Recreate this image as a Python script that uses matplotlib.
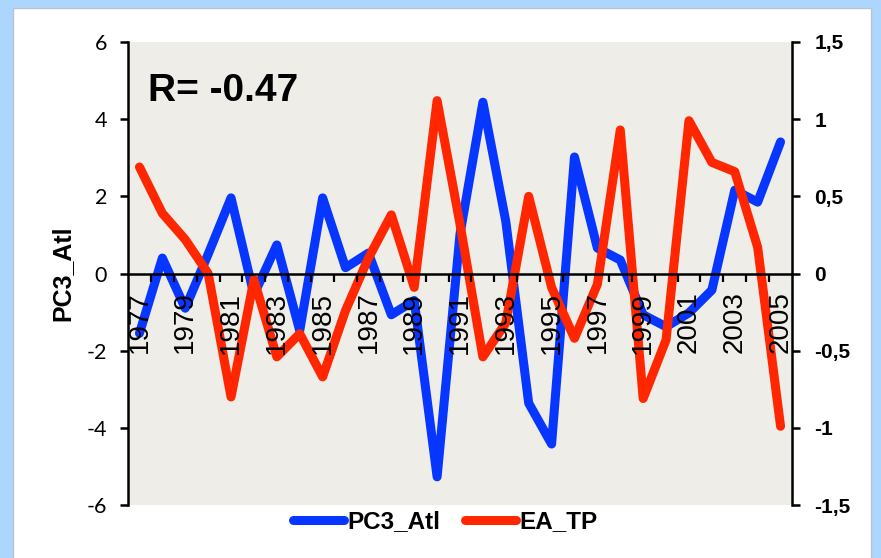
import numpy as np
import matplotlib
matplotlib.use("Agg")
import matplotlib.pyplot as plt
from matplotlib.patches import Rectangle

plt.rcParams['font.family'] = ['Liberation Sans', 'DejaVu Sans']

# ---- data -------------------------------------------------------------
years = list(range(1977, 2006))
pc3_atl = [-1.55, 0.40, -0.90, 0.50, 1.96, -0.55, 0.74, -1.48, 1.96, 0.15,
           0.53, -1.07, -0.70, -5.27, 1.02, 4.44, 1.35, -3.36, -4.42, 3.02,
           0.66, 0.35, -1.07, -1.38, -1.02, -0.43, 2.16, 1.85, 3.41]
ea_tp = [0.69, 0.39, 0.22, 0.00, -0.80, -0.04, -0.54, -0.39, -0.67, -0.24,
         0.10, 0.38, -0.09, 1.12, 0.32, -0.54, -0.32, 0.50, -0.09, -0.42,
         -0.07, 0.93, -0.81, -0.43, 0.99, 0.72, 0.66, 0.17, -0.99]
left_ticks = [-6, -4, -2, 0, 2, 4, 6]
right_ticks = [-1.5, -1.0, -0.5, 0.0, 0.5, 1.0, 1.5]
correlation_text = "R= -0.47"

BLUE = '#0636FF'
RED = '#FF2600'

def comma_fmt(v):
    s = f"{v:g}"
    return s.replace('.', ',')

# ---- figure -----------------------------------------------------------
W, H = 881, 558
fig = plt.figure(figsize=(W / 100, H / 100), dpi=100)
fig.patch.set_facecolor('#ADD6FF')
panel = Rectangle((13 / W, -0.01), (871 - 13) / W, 1.01 - 8 / H,
                  transform=fig.transFigure, facecolor='white',
                  edgecolor='#B9C3CF', linewidth=1.0, zorder=-10)
fig.patches.append(panel)

left, right, top, bottom = 128 / W, 792 / W, 1 - 42 / H, 1 - 505 / H
ax1 = fig.add_axes([left, bottom, right - left, top - bottom])
ax1.set_facecolor('#EEEDE7')

x = np.arange(len(years))
line_kw = dict(lw=6.5, solid_capstyle='round', solid_joinstyle='round')
l1, = ax1.plot(x, pc3_atl, color=BLUE, label='PC3_Atl', **line_kw)
ax1.set_xlim(-0.5, len(years) - 0.5)
ax1.set_ylim(-6, 6)
ax1.set_yticks(left_ticks, labels=[str(t) for t in left_ticks],
               fontfamily='Lato', fontsize=15.5)
ax1.tick_params(axis='y', direction='out', length=6, width=1.8, pad=9)
for s in ('top', 'bottom', 'right'):
    ax1.spines[s].set_visible(False)
ax1.spines['left'].set_linewidth(1.8)
ax1.xaxis.set_visible(False)
ax1.set_ylabel('PC3_Atl', fontsize=18, fontweight='bold')
ax1.yaxis.set_label_coords(-0.080, 0.5)
ax1.text(0.03, 0.894, correlation_text, transform=ax1.transAxes,
         fontsize=28, fontweight='bold', ha='left', va='center')

# second series on the right-hand scale
ax2 = ax1.twinx()
ax2.set_axisbelow(False)
l2, = ax2.plot(x, ea_tp, color=RED, label='EA_TP', **line_kw)
ax2.set_ylim(-1.5, 1.5)
ax2.set_yticks(right_ticks, labels=[comma_fmt(t) for t in right_ticks],
               fontsize=15, fontweight='bold')
ax2.tick_params(axis='y', direction='out', length=6, width=1.8, pad=10)
for s in ('top', 'left'):
    ax2.spines[s].set_visible(False)
ax2.spines['right'].set_linewidth(1.8)

# category axis drawn through zero
ax2.xaxis.set_visible(True)
ax2.spines['bottom'].set_visible(True)
ax2.spines['bottom'].set_position(('data', 0))
ax2.spines['bottom'].set_linewidth(1.8)
ax2.set_xticks(x[::2], labels=[str(y) for y in years[::2]],
               rotation=90, fontsize=20)
ax2.set_xticks(x[:-1] + 0.5, minor=True)
ax2.tick_params(axis='x', which='major', length=0, pad=13,
                labelbottom=True, bottom=True)
ax2.tick_params(axis='x', which='minor', direction='out', length=6,
                width=1.6, bottom=True)
ax2.set_xlim(-0.5, len(years) - 0.5)

fig.legend([l1, l2], ['PC3_Atl', 'EA_TP'], loc='center',
           bbox_to_anchor=(445 / W, 1 - 522 / H), ncol=2, frameon=False,
           prop={'size': 17.5, 'weight': 'bold'}, handlelength=2.1,
           handletextpad=0.15, columnspacing=1.0, borderaxespad=0)

fig.savefig('out.png', dpi=100, facecolor=fig.get_facecolor())
